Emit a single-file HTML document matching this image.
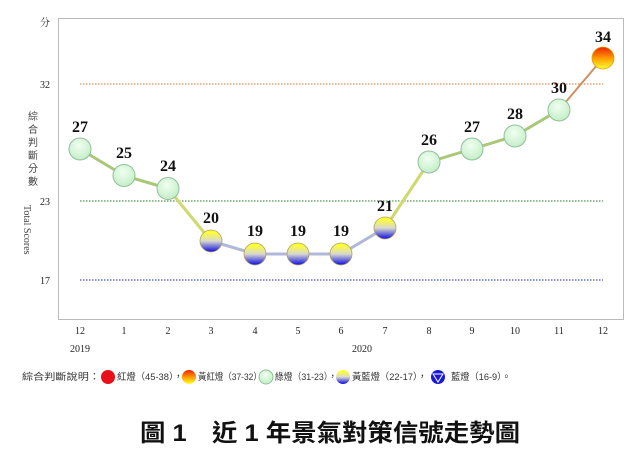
<!DOCTYPE html>
<html><head><meta charset="utf-8"><style>
body{margin:0;background:#fff;width:640px;height:456px;overflow:hidden}
svg{display:block}
.t{font-family:"Liberation Serif","Noto Serif CJK SC",serif}
.c{font-family:"Liberation Sans","Noto Sans CJK TC",sans-serif}
</style></head><body>
<svg width="640" height="456" viewBox="0 0 640 456">
<defs>
<radialGradient id="g" cx="45%" cy="35%" r="65%"><stop offset="0" stop-color="#f0fff0"/><stop offset="1" stop-color="#c4eec8"/></radialGradient>
<linearGradient id="yb" x1="0" y1="0" x2="0" y2="1"><stop offset="0.1" stop-color="#ffff30"/><stop offset="0.5" stop-color="#d8d8d0"/><stop offset="0.95" stop-color="#2020e0"/></linearGradient>
<linearGradient id="yr" x1="0" y1="0" x2="0" y2="1"><stop offset="0" stop-color="#ee2200"/><stop offset="0.5" stop-color="#ff9900"/><stop offset="1" stop-color="#ffff30"/></linearGradient>
</defs>
<rect x="58.5" y="18.5" width="565" height="301" fill="#fff" stroke="#bbb" stroke-width="1"/>
<line x1="80" y1="84" x2="603" y2="84" stroke="#e07030" stroke-dasharray="1.5,1.5"/>
<line x1="80" y1="201" x2="603" y2="201" stroke="#208020" stroke-dasharray="1.5,1.5"/>
<line x1="80" y1="280" x2="603" y2="280" stroke="#2020a0" stroke-dasharray="1.5,1.5"/>
<g class="t" font-size="10" fill="#222">
<text x="40" y="26">分</text>
<text x="40" y="88">32</text><text x="40" y="205">23</text><text x="40" y="284">17</text>
<g text-anchor="middle">
<text x="80" y="334">12</text><text x="124" y="334">1</text><text x="168" y="334">2</text><text x="211" y="334">3</text><text x="255" y="334">4</text><text x="298" y="334">5</text><text x="341" y="334">6</text><text x="385" y="334">7</text><text x="429" y="334">8</text><text x="472" y="334">9</text><text x="515" y="334">10</text><text x="559" y="334">11</text><text x="603" y="334">12</text>
<text x="80" y="352">2019</text><text x="362" y="352">2020</text>
</g>
</g>
<g class="c" font-size="10" fill="#444">
<text x="28" y="120">綜</text><text x="28" y="133">合</text><text x="28" y="146">判</text><text x="28" y="159">斷</text><text x="28" y="172">分</text><text x="28" y="185">數</text>
<text class="t" transform="translate(24,205) rotate(90)" font-size="10">Total Scores</text>
</g>
<polyline points="80,149 124,175.5 168,188.5" fill="none" stroke="#a8c878" stroke-width="3"/>
<polyline points="168,188.5 211,241" fill="none" stroke="#d0d870" stroke-width="3"/>
<polyline points="211,241 255,254 298,254 341,254 385,228" fill="none" stroke="#b0b8d8" stroke-width="3"/>
<polyline points="385,228 429,162" fill="none" stroke="#d0d870" stroke-width="3"/>
<polyline points="429,162 472,149 515,136 559,110" fill="none" stroke="#a8c878" stroke-width="3"/>
<polyline points="559,110 603,58" fill="none" stroke="#d09060" stroke-width="2"/>
<g stroke="#90c098" stroke-width="1">
<circle cx="80" cy="149" r="11" fill="url(#g)"/><circle cx="124" cy="175.5" r="11" fill="url(#g)"/><circle cx="168" cy="188.5" r="11" fill="url(#g)"/>
<circle cx="429" cy="162" r="11" fill="url(#g)"/><circle cx="472" cy="149" r="11" fill="url(#g)"/><circle cx="515" cy="136" r="11" fill="url(#g)"/><circle cx="559" cy="110" r="11" fill="url(#g)"/>
</g>
<g stroke="#b0a060" stroke-width="0.8">
<circle cx="211" cy="241" r="11" fill="url(#yb)"/><circle cx="255" cy="254" r="11" fill="url(#yb)"/><circle cx="298" cy="254" r="11" fill="url(#yb)"/><circle cx="341" cy="254" r="11" fill="url(#yb)"/><circle cx="385" cy="228" r="11" fill="url(#yb)"/>
</g>
<circle cx="603" cy="58" r="11" fill="url(#yr)" stroke="#e0a000" stroke-width="0.8"/>
<g class="t" font-size="16" font-weight="bold" fill="#111" text-anchor="middle">
<text x="80" y="132">27</text><text x="124" y="158">25</text><text x="168" y="171">24</text><text x="211" y="223">20</text><text x="255" y="236">19</text><text x="298" y="236">19</text><text x="341" y="236">19</text><text x="385" y="211">21</text><text x="429" y="145">26</text><text x="472" y="132">27</text><text x="515" y="119">28</text><text x="559" y="93">30</text><text x="603" y="42">34</text>
</g>
<g class="c" font-size="9.5" fill="#333">
<text x="22" y="380" textLength="78" lengthAdjust="spacingAndGlyphs">綜合判斷說明：</text>
<circle cx="108" cy="377" r="7" fill="#e8101a"/>
<text x="117" y="380" textLength="66" lengthAdjust="spacingAndGlyphs">紅燈（45-38），</text>
<circle cx="189" cy="377" r="7" fill="url(#yr)"/>
<text x="198" y="380" textLength="68" lengthAdjust="spacingAndGlyphs">黃紅燈（37-32），</text>
<circle cx="266" cy="377" r="7" fill="url(#g)" stroke="#90c098"/>
<text x="275" y="380" textLength="62" lengthAdjust="spacingAndGlyphs">綠燈（31-23），</text>
<circle cx="343" cy="377" r="7" fill="url(#yb)"/>
<text x="352" y="380" textLength="75" lengthAdjust="spacingAndGlyphs">黃藍燈（22-17），</text>
<circle cx="438" cy="377" r="7" fill="#1818d8"/>
<path d="M433,374 L443,374 L438,382 Z" fill="none" stroke="#fff" stroke-width="1"/>
<text x="451" y="380" textLength="60" lengthAdjust="spacingAndGlyphs">藍燈（16-9）。</text>
</g>
<text class="c" x="330" y="441" font-size="24" font-weight="bold" fill="#111" text-anchor="middle" textLength="380" lengthAdjust="spacingAndGlyphs">圖 1　近 1 年景氣對策信號走勢圖</text>
</svg>
</body></html>
